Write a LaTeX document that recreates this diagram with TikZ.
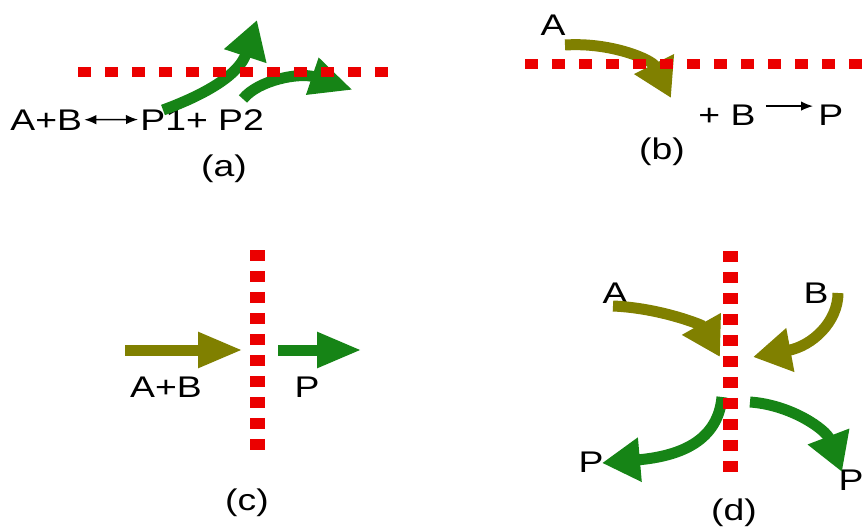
\documentclass[tikz,border=0pt]{standalone}
\usepackage{fontspec}
\setmainfont{Liberation Sans}[FakeStretch=1.25]
\usetikzlibrary{arrows.meta}

\definecolor{barred}{RGB}{235,0,0}
\definecolor{reacolive}{RGB}{128,128,0}
\definecolor{prodgreen}{RGB}{22,132,22}

\begin{document}
\begin{tikzpicture}[x=0.02cm,y=-0.02cm,
  every node/.style={font=\fontsize{17pt}{20pt}\selectfont,inner sep=0pt},
  hbar/.style={draw=barred,line width=0.2cm,dash pattern=on 0.26cm off 0.28cm},
  vbar/.style={draw=barred,line width=0.3cm,dash pattern=on 0.22cm off 0.2cm},
  reac/.style={draw=reacolive,line width=0.22cm},
  prod/.style={draw=prodgreen,line width=0.22cm},
  curvehead/.style={arrows={-Triangle[length=0.76cm,width=0.84cm]}},
  flathead/.style={arrows={-Triangle[length=0.9cm,width=0.66cm]}},
  eqarrow/.style={line width=0.8pt,arrows={Latex[length=0.24cm,width=0.19cm]-Latex[length=0.24cm,width=0.19cm]}},
  onearrow/.style={line width=0.8pt,arrows={-Latex[length=0.24cm,width=0.19cm]}}]
  \useasboundingbox (0,0) rectangle (866,528);

  % (a) equilibrium, both products leave
  \node[anchor=base west] (abA) at (10,130) {A+B};
  \node[anchor=base west] (pA) at (140,130) {P1+ P2};
  \draw[eqarrow] ([xshift=0.04cm]abA.east) -- ([xshift=-0.04cm]pA.west);
  \node[anchor=base] (labA) at (224,176) {(a)};
  \coordinate (a1s) at (163,110);
  \coordinate (a1e) at (257,20);
  \coordinate (a2s) at (243,99);
  \coordinate (a2e) at (353,90);
  \draw[prod,curvehead] (a1s) .. controls (212,92) and (240,72) .. (a1e);
  \draw[prod,arrows={-Triangle[length=0.86cm,width=0.72cm]}] (a2s) .. controls (258,80) and (300,72) .. (a2e);
  \draw[hbar] (78,72) -- (388,72);

  % (b) A crosses, then reacts with B
  \node[anchor=base] (aB) at (553,35) {A};
  \node[anchor=base west] (bB) at (698,125) {+ B};
  \node[anchor=base west] (pB) at (818,125) {P};
  \draw[onearrow,shorten <=0.2cm,shorten >=0.1cm] ([yshift=-0.04cm]bB.north east) -- ([yshift=-0.04cm]pB.north west);
  \node[anchor=base] (labB) at (662,159) {(b)};
  \coordinate (b1s) at (565,45);
  \coordinate (b1e) at (671,98);
  \draw[reac,curvehead] (b1s) .. controls (612,42) and (652,60) .. (b1e);
  \draw[hbar] (525,64) -- (870,64);

  % (c) straight through
  \node[anchor=base] (abC) at (166,397) {A+B};
  \node[anchor=base] (pC) at (307,397) {P};
  \node[anchor=base] (labC) at (247,510) {(c)};
  \coordinate (c1s) at (125,350);
  \coordinate (c1e) at (243,350);
  \coordinate (c2s) at (278,350);
  \coordinate (c2e) at (362,350);
  \draw[reac,flathead] (c1s) -- (c1e);
  \draw[prod,flathead] (c2s) -- (c2e);
  \draw[vbar] (257,250) -- (257,452);

  % (d) both sides meet at the barrier
  \node[anchor=base] (aD) at (615,303) {A};
  \node[anchor=base] (bD) at (816,303) {B};
  \node[anchor=base] (pDl) at (591,472) {P};
  \node[anchor=base] (pDr) at (851,490) {P};
  \node[anchor=base] (labD) at (734,520) {(d)};
  \coordinate (d1s) at (613,306);
  \coordinate (d1e) at (720,357);
  \coordinate (d2s) at (838,293);
  \coordinate (d2e) at (753,357);
  \coordinate (d3s) at (722,397);
  \coordinate (d3e) at (602,463);
  \coordinate (d4s) at (750,402);
  \coordinate (d4e) at (842,472);
  \draw[reac,curvehead] (d1s) .. controls (660,308) and (702,325) .. (d1e);
  \draw[reac,curvehead] (d2s) .. controls (838,322) and (812,346) .. (d2e);
  \draw[prod,curvehead] (d3s) .. controls (718,440) and (682,456) .. (d3e);
  \draw[prod,curvehead] (d4s) .. controls (792,405) and (826,430) .. (d4e);
  \draw[vbar] (730,251) -- (730,473);
\end{tikzpicture}
\end{document}
